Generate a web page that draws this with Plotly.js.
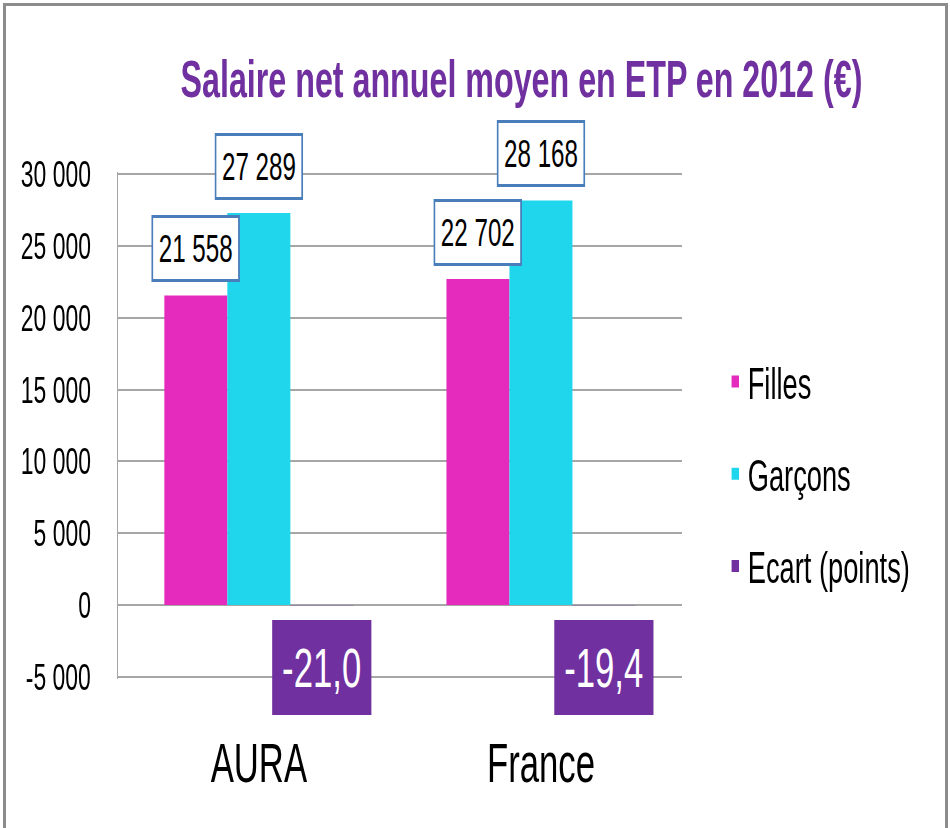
<!DOCTYPE html>
<html>
<head>
<meta charset="utf-8">
<script src="https://cdn.plot.ly/plotly-3.0.1.min.js"></script>
<style>
  html, body { margin: 0; padding: 0; overflow: hidden; background: #fff; width: 950px; height: 828px; }
  #wrap { position: absolute; left: 0; top: 0; width: 950px; height: 828px; overflow: hidden; }
  #chart { position: absolute; left: 0; top: 0; width: 1532px; height: 828px; transform: scaleX(0.62); transform-origin: 0 0; }
  #frame { position: absolute; left: 3px; top: 3px; width: 939px; height: 900px; border: 3px solid #8c8c8c; pointer-events: none; }
</style>
</head>
<body>
<div id="wrap">
  <div id="chart"></div>
  <div id="frame"></div>
</div>
<script>
// ---- data ----
const categories = ["AURA", "France"];
const filles = [21558, 22702];
const garcons = [27289, 28168];
const ecart = [-21.0, -19.4];
const seriesNames = ["Filles", "Garçons", "Ecart (points)"];
const yTickVals = [-5000, 0, 5000, 10000, 15000, 20000, 25000, 30000];
const yTickText = ["-5 000", "0", "5 000", "10 000", "15 000", "20 000", "25 000", "30 000"];
const titleText = "Salaire net annuel moyen en ETP en 2012 (€)";

// ---- styling ----
const colors = ["#E52BBE", "#1FD6EC", "#7030A0"];
const FONT = "Liberation Sans, Arial, sans-serif";
const bargap = 0.33;

function fmtEuro(v) { return String(v).replace(/\B(?=(\d{3})+(?!\d))/g, " "); }
function fmtPts(v) { return v.toFixed(1).replace(".", ","); }

const seriesValues = [filles, garcons, ecart];
const traces = seriesValues.map((vals, i) => ({
  type: "bar",
  name: seriesNames[i],
  x: categories,
  y: vals,
  marker: { color: colors[i] },
  legendgroup: "g" + i,
  hoverinfo: "x+y+name"
}));

const nT = seriesValues.length;
const bw = (1 - bargap) / nT;
const annotations = [];
categories.forEach((c, ci) => {
  [0, 1].forEach(si => {
    annotations.push({
      x: ci + (si - (nT - 1) / 2) * bw, y: seriesValues[si][ci],
      xref: "x", yref: "y",
      text: fmtEuro(seriesValues[si][ci]),
      showarrow: false, yanchor: "bottom", xanchor: "center", yshift: 13,
      font: { family: FONT, size: 39, color: "#000" },
      bgcolor: "#ffffff", bordercolor: "#4A7EBB", borderwidth: 3, borderpad: 9
    });
  });
  annotations.push({
    x: ci + (2 - (nT - 1) / 2) * bw, y: ecart[ci],
    xref: "x", yref: "y",
    text: fmtPts(ecart[ci]),
    showarrow: false, yanchor: "top", xanchor: "center", yshift: -15,
    font: { family: FONT, size: 56, color: "#ffffff" },
    bgcolor: "#7030A0", borderwidth: 0, borderpad: 16
  });
});

const layout = {
  width: 1532, height: 828,
  margin: { l: 190, r: 432, t: 172, b: 149 },
  paper_bgcolor: "rgba(0,0,0,0)", plot_bgcolor: "rgba(0,0,0,0)",
  font: { family: FONT, color: "#000" },
  title: {
    text: "<b>" + titleText + "</b>",
    font: { family: FONT, size: 52, color: "#7030A0" },
    x: 0.549, xanchor: "center", xref: "container",
    y: 0.905, yanchor: "middle", yref: "container"
  },
  barmode: "group", bargap: bargap, bargroupgap: 0,
  xaxis: {
    type: "category", showgrid: false, showline: false, zeroline: false,
    ticks: "", tickfont: { family: FONT, size: 56, color: "#000" },
    ticklabelstandoff: 46, fixedrange: true
  },
  yaxis: {
    range: [-5150, 30150], tickvals: yTickVals, ticktext: yTickText,
    showgrid: true, gridcolor: "#a6a6a6", gridwidth: 2,
    showline: true, linecolor: "#a6a6a6", linewidth: 2, zeroline: false,
    ticks: "", tickfont: { family: FONT, size: 37, color: "#000" },
    ticklabelstandoff: 34, fixedrange: true
  },
  showlegend: true,
  legend: {
    x: 1.0725, xanchor: "left", y: 0.656, yanchor: "top",
    font: { family: FONT, size: 44, color: "#000" },
    traceorder: "grouped", tracegroupgap: 32,
    bgcolor: "rgba(0,0,0,0)"
  },
  annotations: annotations
};

Plotly.newPlot("chart", traces, layout, { displayModeBar: false, staticPlot: true });
</script>
</body>
</html>
